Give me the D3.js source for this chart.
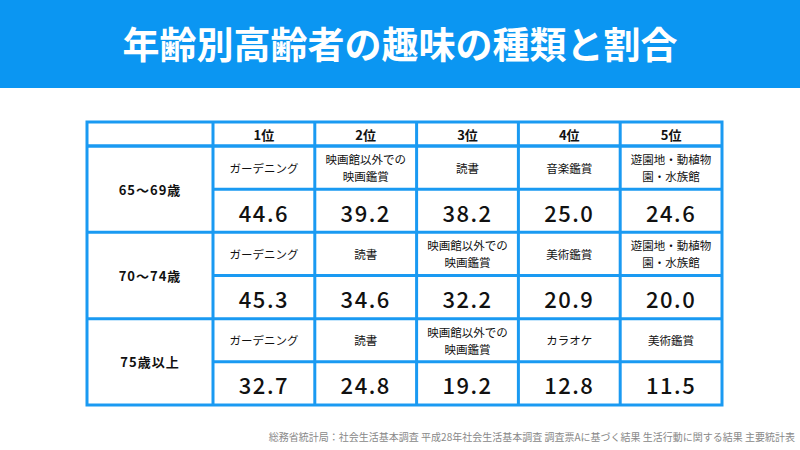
<!DOCTYPE html>
<html><head><meta charset="utf-8">
<script src="https://cdn.jsdelivr.net/npm/d3@7"></script>
<style>body{margin:0;background:#fff}</style></head>
<body><div id="chart"></div>
<script>
const W = 800, H = 450;
const title = '年齢別高齢者の趣味の種類と割合';
const ranks = ['1位', '2位', '3位', '4位', '5位'];
const groups = ['65～69歳', '70～74歳', '75歳以上'];
const hobbies = [
  ['ガーデニング', '映画館以外での\n映画鑑賞', '読書', '音楽鑑賞', '遊園地・動植物\n園・水族館'],
  ['ガーデニング', '読書', '映画館以外での\n映画鑑賞', '美術鑑賞', '遊園地・動植物\n園・水族館'],
  ['ガーデニング', '読書', '映画館以外での\n映画鑑賞', 'カラオケ', '美術鑑賞']
];
const values = [
  [44.6, 39.2, 38.2, 25.0, 24.6],
  [45.3, 34.6, 32.2, 20.9, 20.0],
  [32.7, 24.8, 19.2, 12.8, 11.5]
];
const source = '総務省統計局：社会生活基本調査 平成28年社会生活基本調査 調査票Aに基づく結果 生活行動に関する結果 主要統計表';

const blue = '#1a9af2';
const font = '"Noto Sans CJK JP", sans-serif';

const svg = d3.select('#chart').append('svg').attr('width', W).attr('height', H);

svg.append('rect').attr('width', W).attr('height', 88).attr('fill', '#0b96f2');
svg.append('text').attr('x', W / 2).attr('y', 43).attr('text-anchor', 'middle')
  .attr('dominant-baseline', 'central').attr('fill', '#fff')
  .attr('font-family', font).attr('font-weight', 'bold').attr('font-size', 37)
  .text(title);

const x0 = 87, xFirst = 213, x1 = 722;
const xRank = d3.scaleBand().domain(ranks).range([xFirst, x1]);
const yTop = 122, yHead = 146, yBot = 405;
const yGroup = d3.scaleBand().domain(groups).range([yHead, yBot]);
const half = yGroup.bandwidth() / 2;

const g = svg.append('g').attr('font-family', font).attr('fill', '#111');

// header
ranks.forEach(r => {
  g.append('text').attr('x', xRank(r) + xRank.bandwidth() / 2).attr('y', (yTop + yHead) / 2)
    .attr('text-anchor', 'middle').attr('dominant-baseline', 'central')
    .attr('font-size', 13).attr('font-weight', 'bold').text(r);
});

groups.forEach((gr, i) => {
  const y = yGroup(gr);
  g.append('text').attr('x', (x0 + xFirst) / 2).attr('y', y + half)
    .attr('text-anchor', 'middle').attr('dominant-baseline', 'central')
    .attr('font-size', 13).attr('font-weight', 'bold').attr('letter-spacing', 1).text(gr);
  ranks.forEach((r, j) => {
    const cx = xRank(r) + xRank.bandwidth() / 2;
    const lines = hobbies[i][j].split('\n');
    lines.forEach((ln, k) => {
      g.append('text').attr('x', cx).attr('y', y + half / 2 + (k - (lines.length - 1) / 2) * 17)
        .attr('text-anchor', 'middle').attr('dominant-baseline', 'central')
        .attr('font-size', 11.5).text(ln);
    });
    g.append('text').attr('x', cx).attr('y', y + half * 1.5 + 1)
      .attr('text-anchor', 'middle').attr('dominant-baseline', 'central')
      .attr('font-size', 22).attr('font-weight', 500).attr('letter-spacing', 1.5)
      .text(values[i][j].toFixed(1));
  });
});

// grid
const grid = svg.append('g').attr('stroke', blue).attr('stroke-width', 3).attr('fill', 'none');
grid.append('rect').attr('x', x0).attr('y', yTop).attr('width', x1 - x0).attr('height', yBot - yTop);
[xFirst].concat(ranks.slice(1).map(r => xRank(r))).forEach(x => {
  grid.append('line').attr('x1', x).attr('x2', x).attr('y1', yTop).attr('y2', yBot);
});
grid.append('line').attr('x1', x0).attr('x2', x1).attr('y1', yHead).attr('y2', yHead);
groups.forEach(gr => {
  const y = yGroup(gr);
  grid.append('line').attr('x1', x0).attr('x2', x1).attr('y1', y).attr('y2', y);
  grid.append('line').attr('x1', xFirst).attr('x2', x1).attr('y1', y + half).attr('y2', y + half);
});

svg.append('text').attr('x', 795).attr('y', 441).attr('text-anchor', 'end')
  .attr('font-family', font).attr('font-size', 10).attr('fill', '#888').text(source);
</script></body></html>
